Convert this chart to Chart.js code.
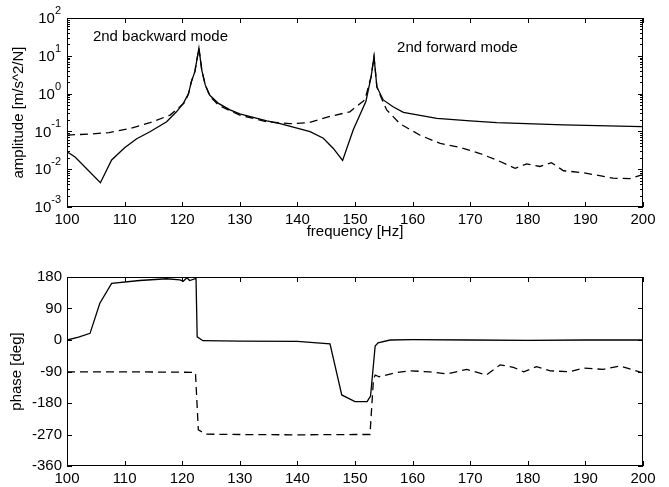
<!DOCTYPE html>
<html>
<head>
<meta charset="utf-8">
<script src="https://cdn.jsdelivr.net/npm/chart.js@4/dist/chart.umd.min.js"></script>
<style>
  html, body { margin: 0; padding: 0; background: #fff; }
  #wrap { position: relative; width: 669px; height: 487px; }
  #ampBox { position: absolute; left: 0; top: 0; width: 669px; height: 250px; }
  #phaseBox { position: absolute; left: 0; top: 250px; width: 669px; height: 237px; }
</style>
</head>
<body>
<div id="wrap">
  <div id="ampBox"><canvas id="amp" width="669" height="250"></canvas></div>
  <div id="phaseBox"><canvas id="phase" width="669" height="237"></canvas></div>
</div>
<script>
// frequency axis
const freqTicks = [100, 110, 120, 130, 140, 150, 160, 170, 180, 190, 200];
const ampTicks = [1e-3, 1e-2, 1e-1, 1e0, 1e1, 1e2];
const phaseTicks = [-360, -270, -180, -90, 0, 90, 180];

// amplitude, solid line
const ampSolidHz = [100, 101.4, 105.8, 107.75, 110, 112.1, 114.4, 117.3, 119, 120.2, 121.1, 121.6, 122.2,
  122.9, 123.4, 124, 124.8, 126.3, 128.3, 130, 134.7, 137, 142.2, 144.5, 146.2, 147.85, 149.7, 151.9, 152.8,
  153.3, 153.8, 154.9, 156.6, 158.4, 164.2, 170, 174.6, 186.2, 199.8];
const ampSolid = [0.029, 0.021, 0.0044, 0.0175, 0.037, 0.064, 0.098, 0.18, 0.33, 0.55, 1.0, 2.1, 3.8,
  16, 4.2, 1.7, 0.9, 0.55, 0.37, 0.29, 0.19, 0.16, 0.098, 0.066, 0.036, 0.017, 0.11, 0.63, 2.8,
  9.5, 1.5, 0.68, 0.45, 0.32, 0.22, 0.19, 0.17, 0.148, 0.133];

// amplitude, dashed line
const ampDashHz = [100, 104, 107.3, 111, 114.4, 117.9, 119.6, 120.5, 121.1, 121.6, 122.2, 122.9, 123.4,
  124, 124.8, 126.3, 128.3, 130, 134.7, 138.7, 142, 145.7, 149.1, 151.7, 152.8, 153.3, 153.8, 154.6,
  155.5, 157.8, 161.3, 164.8, 168.2, 171.7, 175.2, 177.8, 179.8, 182.1, 184.1, 186.2, 189.6, 194.8, 197.7, 199.8];
const ampDash = [0.08, 0.085, 0.093, 0.12, 0.17, 0.27, 0.45, 0.6, 1.0, 2.1, 3.8, 16, 4.2,
  1.7, 0.85, 0.5, 0.35, 0.27, 0.18, 0.16, 0.17, 0.25, 0.33, 0.68, 2.8, 9.5, 1.5, 0.75,
  0.37, 0.16, 0.079, 0.048, 0.038, 0.026, 0.016, 0.0105, 0.0138, 0.0118, 0.0149, 0.0091, 0.0081, 0.0058, 0.0056, 0.0071];

// phase, solid line
const phaseSolidHz = [100, 102, 104, 105.7, 107.75, 112.6, 117.3, 119.6, 120.2, 120.8, 121.3, 122.4, 122.6,
  123.6, 130, 140, 145.66, 147.7, 150, 152.1, 152.7, 153.5, 154, 156.1, 160, 170, 180, 190, 200];
const phaseSolid = [0, 8, 19, 105, 162, 170, 175, 172, 168, 178, 170, 176, 9,
  -2, -3, -4, -11, -157, -176, -176, -160, -17, -8, 0, 1, 0, -1, 0, 0];

// phase, dashed line
const phaseDashHz = [100, 110, 120, 122.3, 122.8, 124.2, 130, 140, 150, 152.6, 153.2, 153.5, 154.2, 157.2,
  159.5, 163, 165.9, 169.4, 172.8, 175.2, 177.5, 179.3, 181.5, 183.9, 187.3, 189.6, 193.1, 196, 199.8];
const phaseDash = [-91, -91, -92, -93, -257, -269, -270, -271, -270, -270, -114, -100, -105, -93,
  -88, -91, -97, -84, -100, -71, -78, -91, -76, -88, -91, -80, -84, -74, -93];

// mode labels
const modeLabels = ['2nd backward mode', '2nd forward mode'];
const modeLabelHz = [104.5, 157.3];
const modeLabelAmp = [31, 16];

const FONT = "'Liberation Sans', Arial, Helvetica, sans-serif";
Chart.defaults.font.family = FONT;
Chart.defaults.font.size = 15;
Chart.defaults.color = '#000';

const pts = (xs, ys) => xs.map((x, i) => ({ x, y: ys[i] }));

// matlab style frame with inward ticks
const frameTicks = {
  id: 'frameTicks',
  afterDraw(chart, args, opts) {
    const { ctx, chartArea: a, scales } = chart;
    const line = (x1, y1, x2, y2) => { ctx.beginPath(); ctx.moveTo(x1, y1); ctx.lineTo(x2, y2); ctx.stroke(); };
    ctx.save();
    ctx.strokeStyle = '#000';
    ctx.lineWidth = 1;
    ctx.strokeRect(a.left + 0.5, a.top + 0.5, a.width - 1, a.height - 1);
    scales.x.ticks.forEach(t => {
      const x = Math.round(scales.x.getPixelForValue(t.value)) + 0.5;
      line(x, a.top, x, a.top + 5);
      line(x, a.bottom, x, a.bottom - 5);
    });
    scales.y.ticks.forEach(t => {
      const y = Math.round(scales.y.getPixelForValue(t.value)) + 0.5;
      line(a.left, y, a.left + 5, y);
      line(a.right, y, a.right - 5, y);
    });
    if (opts.minor) {
      for (let i = 0; i < ampTicks.length - 1; i++) {
        for (let k = 2; k <= 9; k++) {
          const y = Math.round(scales.y.getPixelForValue(ampTicks[i] * k)) + 0.5;
          line(a.left, y, a.left + 3, y);
          line(a.right, y, a.right - 3, y);
        }
      }
    }
    if (opts.powers) {
      ctx.fillStyle = '#000';
      ctx.textAlign = 'right';
      ampTicks.forEach(v => {
        const y = scales.y.getPixelForValue(v);
        const exp = String(Math.round(Math.log10(v)));
        ctx.font = '11px ' + FONT;
        ctx.textBaseline = 'alphabetic';
        const ew = ctx.measureText(exp).width;
        ctx.fillText(exp, a.left - 6, y - 4);
        ctx.font = '15px ' + FONT;
        ctx.textBaseline = 'middle';
        ctx.fillText('10', a.left - 6 - ew, y + 1);
      });
    }
    if (opts.labels) {
      ctx.fillStyle = '#000';
      ctx.font = '15px ' + FONT;
      ctx.textAlign = 'left';
      ctx.textBaseline = 'middle';
      opts.labels.forEach((s, i) => {
        ctx.fillText(s, scales.x.getPixelForValue(modeLabelHz[i]), scales.y.getPixelForValue(modeLabelAmp[i]));
      });
    }
    ctx.restore();
  }
};

const lineStyle = { borderColor: '#000', borderWidth: 1.3, pointRadius: 0, tension: 0, fill: false };

const xAxis = (height, title) => ({
  type: 'linear',
  min: 100,
  max: 200,
  grid: { display: false, drawTicks: false },
  border: { display: false },
  afterBuildTicks: s => { s.ticks = freqTicks.map(v => ({ value: v })); },
  ticks: { padding: 4, maxRotation: 0, autoSkip: false },
  title: title ? { display: true, text: title, padding: { top: 0, bottom: 9 }, font: { size: 15 } } : { display: false },
  afterFit: s => { s.height = height; }
});

new Chart(document.getElementById('amp'), {
  type: 'line',
  data: {
    datasets: [
      { ...lineStyle, data: pts(ampSolidHz, ampSolid) },
      { ...lineStyle, borderDash: [8, 5], data: pts(ampDashHz, ampDash) }
    ]
  },
  options: {
    responsive: false,
    animation: false,
    devicePixelRatio: 1,
    layout: { padding: { top: 18, right: 26, left: 0, bottom: 0 } },
    plugins: {
      legend: { display: false },
      tooltip: { enabled: false },
      frameTicks: { minor: true, powers: true, labels: modeLabels }
    },
    scales: {
      x: xAxis(43, 'frequency [Hz]'),
      y: {
        type: 'logarithmic',
        min: 1e-3,
        max: 1e2,
        grid: { display: false, drawTicks: false },
        border: { display: false },
        afterBuildTicks: s => { s.ticks = ampTicks.map(v => ({ value: v })); },
        ticks: { display: false },
        title: { display: true, text: 'amplitude [m/s^2/N]', padding: { top: 10, bottom: 0 }, font: { size: 15 } },
        afterFit: s => { s.width = 67; }
      }
    }
  },
  plugins: [frameTicks]
});

new Chart(document.getElementById('phase'), {
  type: 'line',
  data: {
    datasets: [
      { ...lineStyle, data: pts(phaseSolidHz, phaseSolid) },
      { ...lineStyle, borderDash: [8, 5], data: pts(phaseDashHz, phaseDash) }
    ]
  },
  options: {
    responsive: false,
    animation: false,
    devicePixelRatio: 1,
    layout: { padding: { top: 27, right: 26, left: 0, bottom: 0 } },
    plugins: {
      legend: { display: false },
      tooltip: { enabled: false },
      frameTicks: {}
    },
    scales: {
      x: xAxis(21, null),
      y: {
        type: 'linear',
        min: -360,
        max: 180,
        grid: { display: false, drawTicks: false },
        border: { display: false },
        afterBuildTicks: s => { s.ticks = phaseTicks.map(v => ({ value: v })); },
        ticks: { padding: 5 },
        title: { display: true, text: 'phase [deg]', padding: { top: 8, bottom: 0 }, font: { size: 15 } },
        afterFit: s => { s.width = 67; }
      }
    }
  },
  plugins: [frameTicks]
});
</script>
</body>
</html>
